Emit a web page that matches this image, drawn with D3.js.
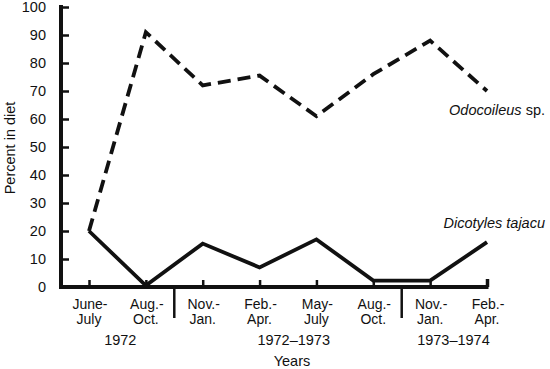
<!DOCTYPE html>
<html><head><meta charset="utf-8">
<script src="https://cdn.jsdelivr.net/npm/d3@7"></script>
<style>body{margin:0;background:#fff}svg{display:block}text{font-family:"Liberation Sans",Arial,sans-serif;fill:#111}</style>
</head><body>
<svg id="c" width="550" height="369"></svg>
<script>
const periodsTop = ["June-","Aug.-","Nov.-","Feb.-","May-","Aug.-","Nov.-","Feb.-"];
const periodsBottom = ["July","Oct.","Jan.","Apr.","July","Oct.","Jan.","Apr."];
const odocoileus = [20,91,72,75.5,61,76,88,70];
const dicotyles = [20,0.5,15.5,7,17,2.3,2.3,16];
const yTicks = [0,10,20,30,40,50,60,70,80,90,100];
const yearLabels = ["1972","1972\u20131973","1973\u20131974"];
const yearCenters = [0.55,3.6,6.41]; // in category index units
const separators = [1.5,5.5];

const svg = d3.select("#c");
const x = d3.scaleLinear().domain([0,7]).range([89,487]);
const y = d3.scaleLinear().domain([0,100]).range([287,7]);
const axisX0 = 61;

// y axis
svg.append("line").attr("x1",axisX0).attr("x2",axisX0).attr("y1",y(100)-2).attr("y2",y(0)+2)
  .attr("stroke","#111").attr("stroke-width",4);
const yAxis = d3.axisLeft(y).tickValues(yTicks).tickSize(-8).tickPadding(15).tickFormat(d3.format("d"));
const ga = svg.append("g").attr("transform",`translate(${axisX0},0)`).call(yAxis);
ga.select(".domain").remove();
ga.selectAll(".tick line").attr("stroke","#111").attr("stroke-width",2.5);
ga.selectAll(".tick text").attr("font-size",14.5).attr("fill","#111").attr("font-family","Liberation Sans, Arial, sans-serif");

// x axis
svg.append("line").attr("x1",axisX0-2).attr("x2",x(7)+1.5).attr("y1",y(0)).attr("y2",y(0))
  .attr("stroke","#111").attr("stroke-width",4);
const xAxis = d3.axisBottom(x).tickValues(d3.range(8)).tickSize(-7).tickFormat("");
const gx = svg.append("g").attr("transform",`translate(0,${y(0)})`).call(xAxis);
gx.select(".domain").remove();
gx.selectAll(".tick line").attr("stroke","#111").attr("stroke-width",2.5);
gx.selectAll(".tick").filter(d=>d===7).select("line").attr("stroke-width",3.5).attr("y2",-8);

// separators
svg.selectAll(".sep").data(separators).join("line").attr("class","sep")
  .attr("x1",d=>x(d)).attr("x2",d=>x(d)).attr("y1",y(0)).attr("y2",y(0)+31)
  .attr("stroke","#111").attr("stroke-width",2.5);

// category labels
const cl = svg.selectAll(".cat").data(d3.range(8)).join("g").attr("class","cat");
cl.append("text").attr("x",d=>x(d)+1).attr("y",309).attr("text-anchor","middle").attr("font-size",14).text(d=>periodsTop[d]);
cl.append("text").attr("x",d=>x(d)).attr("y",324).attr("text-anchor","middle").attr("font-size",14).text(d=>periodsBottom[d]);

// year labels
svg.selectAll(".yr").data(yearLabels).join("text").attr("class","yr")
  .attr("x",(d,i)=>x(yearCenters[i])).attr("y",345).attr("text-anchor","middle").attr("font-size",14.5).text(d=>d);
svg.append("text").attr("x",292).attr("y",366).attr("text-anchor","middle").attr("font-size",14.5).text("Years");

// y title
svg.append("text").attr("transform","translate(15,148) rotate(-90)").attr("text-anchor","middle").attr("font-size",14.5).text("Percent in diet");

// lines
const line = d3.line().x((d,i)=>x(i)).y(d=>y(d));
svg.append("path").datum(odocoileus).attr("d",line).attr("fill","none").attr("stroke","#111")
  .attr("stroke-width",3.8).attr("stroke-dasharray","13,7").attr("stroke-linejoin","miter");
svg.append("path").datum(dicotyles).attr("d",line).attr("fill","none").attr("stroke","#111")
  .attr("stroke-width",3.8).attr("stroke-linejoin","miter");

// series labels
const t1 = svg.append("text").attr("x",545).attr("y",115).attr("text-anchor","end").attr("font-size",14.5);
t1.append("tspan").attr("font-style","italic").text("Odocoileus");
t1.append("tspan").text(" sp.");
svg.append("text").attr("x",545).attr("y",228).attr("text-anchor","end").attr("font-size",14.5).attr("font-style","italic").text("Dicotyles tajacu");
</script>
</body></html>
